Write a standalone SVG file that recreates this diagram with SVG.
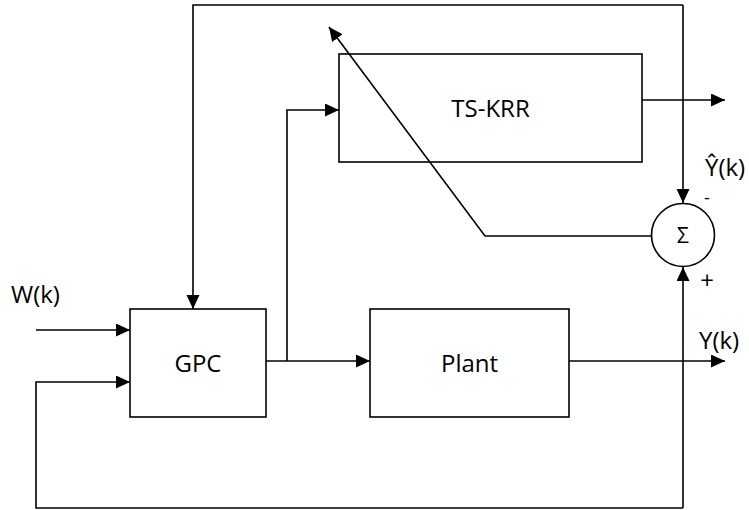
<svg xmlns="http://www.w3.org/2000/svg" width="749" height="510" viewBox="0 0 749 510">
<style>
.box{fill:none;stroke:#000;stroke-width:1.6}
.ln{fill:none;stroke:#000;stroke-width:1.6}
.arr{marker-end:url(#ah)}
text{font-family:"Open Sans","Liberation Sans",sans-serif;font-size:24px;fill:#000}
.c{text-anchor:middle}
</style>
<defs>
<marker id="ah" markerUnits="userSpaceOnUse" markerWidth="16" markerHeight="14" refX="14" refY="6.5" orient="auto">
<path d="M0,0 L14,6.5 L0,13 Z" fill="#000"/>
</marker>
</defs>
<g id="tskrr">
<rect class="box" x="339" y="54" width="303" height="108"/>
<text class="c" x="490.5" y="117">TS-KRR</text>
</g>
<g id="gpc">
<rect class="box" x="130" y="309" width="136" height="108"/>
<text class="c" x="198" y="372">GPC</text>
</g>
<g id="plant">
<rect class="box" x="370" y="309" width="199" height="108"/>
<text class="c" x="469.5" y="372">Plant</text>
</g>
<g id="sum">
<circle class="box" cx="683" cy="235" r="31.5"/>
<text class="c" x="683" y="243" style="font-size:21px">Σ</text>
</g>
<g id="connectors">
<path class="ln arr" d="M36,330 H130"/>
<path class="ln arr" d="M683,508 H36 V382 H130"/>
<path class="ln arr" d="M683,5 V203"/>
<path class="ln arr" d="M683,5 H193 V309"/>
<path class="ln arr" d="M266,361 H370"/>
<path class="ln arr" d="M287,361 V110 H339"/>
<path class="ln arr" d="M642,100 H725"/>
<path class="ln arr" d="M569,361 H725"/>
<path class="ln arr" d="M683,508 V267"/>
<path class="ln arr" d="M652,236 H485 L329,27"/>
</g>
<g id="labels">
<text x="705" y="176">Ŷ(k)</text>
<text x="11" y="303">W(k)</text>
<text x="699" y="349">Y(k)</text>
<text class="c" x="707" y="204" style="font-size:18px">-</text>
<text class="c" x="707" y="289" style="font-size:24px">+</text>
</g>
</svg>
